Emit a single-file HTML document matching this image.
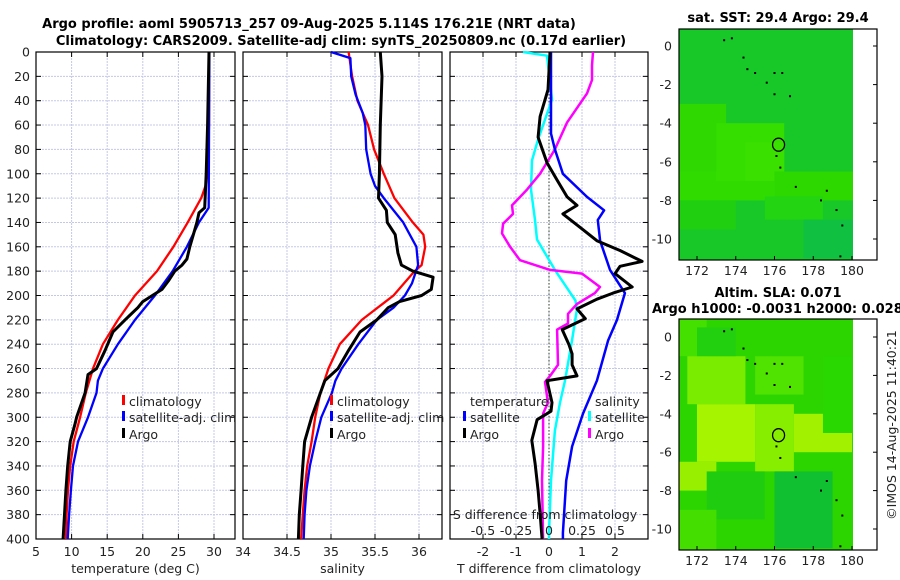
<!DOCTYPE html>
<html><head><meta charset="utf-8">
<style>
html,body{margin:0;padding:0;background:#fff;}
svg{display:block;font-family:"DejaVu Sans","Liberation Sans",sans-serif;}
.tk{font-size:12.5px;fill:#222;}
.tt{font-size:13px;font-weight:bold;fill:#000;}
</style></head>
<body>
<svg id="fig" width="900" height="580" viewBox="0 0 900 580" xmlns="http://www.w3.org/2000/svg">
<rect width="900" height="580" fill="#fff"/>
<text class="tt" x="309" y="28" text-anchor="middle">Argo profile: aoml 5905713_257 09-Aug-2025 5.114S 176.21E (NRT data)</text>
<text class="tt" x="341" y="45" text-anchor="middle">Climatology: CARS2009. Satellite-adj clim: synTS_20250809.nc (0.17d earlier)</text>
<g id="g1"></g><g id="g2"></g><g id="g3"></g><g id="m1"></g><g id="m2"></g>
<text class="tk" transform="translate(896,425) rotate(-90)" text-anchor="middle">©IMOS 14-Aug-2025 11:40:21</text>
</svg>
<script>
// ---- data ----
const depthTicks=[0,20,40,60,80,100,120,140,160,180,200,220,240,260,280,300,320,340,360,380,400];
const tempTicks=[5,10,15,20,25,30];
const salTicks=[34,34.5,35,35.5,36];
const tdiffTicks=[-2,-1,0,1,2];
const sdiffTicks=[-0.5,-0.25,0,0.25,0.5];
const tClimD=[0,60,100,110,120,140,160,180,200,220,240,260,280,300,320,340,360,380,400];
const tClimV=[29.3,29.3,29.1,28.8,28.2,26.3,24.3,22,18.9,16.5,14.4,13,12.0,11.2,10.3,9.8,9.5,9.3,9.2];
const tSatD=[0,128,140,160,180,200,220,240,260,270,280,300,320,340,360,380,400];
const tSatV=[29.35,29.25,27.9,26.2,24.2,21.7,18.9,16.5,14.4,13.7,13.5,12.3,10.9,10.2,9.9,9.65,9.45];
const tArgoD=[0,60,100,128,132,140,160,170,175,180,188,195,205,210,220,230,245,260,265,280,300,305,320,340,360,380,400];
const tArgoV=[29.3,29.1,28.9,28.7,27.9,27.6,26.6,26.2,25.5,24.5,23.6,22.7,20,19.3,17.5,15.8,14.7,13.5,12.3,11.9,10.7,10.5,9.8,9.45,9.2,9.0,8.8];
const sClimD=[0,20,40,60,80,100,120,140,150,160,175,180,200,220,240,260,280,300,320,340,360,380,400];
const sClimV=[35.2,35.24,35.3,35.42,35.49,35.6,35.72,35.93,36.05,36.07,36.03,35.95,35.71,35.35,35.1,34.97,34.88,34.82,34.78,34.73,34.7,34.68,34.66];
const sSatD=[0,5,20,35,50,60,80,100,110,120,140,160,175,190,200,210,220,240,260,270,280,300,320,340,360,380,400];
const sSatV=[35.0,35.22,35.23,35.28,35.36,35.39,35.4,35.45,35.5,35.6,35.82,35.97,35.99,35.92,35.84,35.71,35.52,35.31,35.12,35.05,35.01,34.89,34.82,34.76,34.72,34.7,34.69];
const sArgoD=[0,20,60,100,120,130,140,150,165,175,180,185,195,200,205,210,220,230,245,260,270,280,300,320,340,360,380,400];
const sArgoV=[35.56,35.58,35.56,35.55,35.54,35.63,35.64,35.73,35.76,35.8,35.93,36.16,36.14,36.03,35.78,35.65,35.52,35.33,35.2,35.08,34.93,34.88,34.78,34.7,34.68,34.66,34.64,34.63];
const dTSatD=[0,67,80,100,119,130,138,155,179,198,220,237,270,297,324,352,395,400];
const dTSatV=[0.06,0.06,0.18,0.42,1.15,1.67,1.48,1.55,1.85,2.3,2.06,1.79,1.45,1.03,0.7,0.52,0.42,0.42];
const dTArgoD=[0,31,53,70,91,105,119,126,133,144,155,163,172,176,182,193,198,203,211,219,228,240,248,257,266,270,288,295,302,319,338,360,379,400];
const dTArgoV=[0.03,-0.03,-0.27,-0.33,-0.06,0.24,0.55,0.85,0.42,0.94,1.45,2.15,2.82,2.15,2.0,2.52,1.94,1.45,0.85,1.1,0.4,0.6,0.7,0.7,0.85,-0.06,0.09,0.06,-0.36,-0.52,-0.42,-0.33,-0.27,-0.21];
const dSSatD=[0,3,39,72,89,113,138,154,179,204,211,237,270,288,311,352,395,400];
const dSSatV=[-0.197,-0.015,0.023,-0.083,-0.129,-0.136,-0.106,-0.091,0.045,0.2,0.212,0.174,0.121,0.083,0.045,0.015,0.0,0.0];
const dSArgoD=[0,11,23,34,58,80,100,113,126,133,141,149,160,171,179,182,193,198,207,215,223,228,257,266,271,288,297,324,352,400];
const dSArgoV=[0.333,0.326,0.326,0.288,0.136,0.045,-0.068,-0.167,-0.28,-0.273,-0.348,-0.356,-0.295,-0.22,0.008,0.25,0.386,0.348,0.212,0.144,0.144,0.061,0.068,0.008,-0.03,-0.008,-0.045,-0.045,-0.053,-0.045];
const lonTicks=[172,174,176,178,180];
const latTicks=[0,-2,-4,-6,-8,-10];
const argoLon=176.21, argoLat=-5.114;
const islandsLon=[173.4,173.8,174.4,174.6,175.0,175.6,176.0,176.4,176.0,176.8,176.1,176.3,177.1,178.4,178.7,179.2,179.5,179.4];
const islandsLat=[0.3,0.4,-0.6,-1.2,-1.4,-1.9,-1.4,-1.4,-2.5,-2.6,-5.7,-6.3,-7.3,-8.0,-7.5,-8.5,-9.3,-10.9];
const sstPatchLon=[171,171,173,174.5,176,171,175.5,177.5];
const sstPatchLat=[-3,-6.5,-4,-5,-6.5,-8,-7.8,-9];
const sstPatchW=[2.5,5,3.5,2,5,3,3,3];
const sstPatchH=[3.5,1.5,3,2,1.5,1.5,1.2,2];
const sstPatchC=["#2ed800","#30dc00","#36de00","#3ae000","#2cd800","#20d010","#22d412","#10c040"];
const slaPatchLon=[171,171.5,172,175,177,171,172.5,176,171,178.5,172,175];
const slaPatchLat=[1,-1,-3.5,-3.5,-4,-6.5,-7,-7,-9,-1,0.5,-1];
const slaPatchW=[1.5,3,3,2,3,2,3,3,2,1.5,2,2.5];
const slaPatchH=[2,2.5,3,3.5,2,1.5,2.5,4,2.5,4,1.5,2];
const slaPatchC=["#44e000","#7aec00","#a6f400","#88ee00","#a2f200","#98f000","#20cc10","#10c030","#44de00","#28d800","#22d010","#50e200"];

const NS="http://www.w3.org/2000/svg";
function mk(p,tag,at){const e=document.createElementNS(NS,tag);for(const k in at)e.setAttribute(k,at[k]);p.appendChild(e);return e;}
const Y0=52,Y1=539;
function yD(d){return Y0+(d/400)*(Y1-Y0);}
function lin(d0,d1,r0,r1){return v=>r0+(v-d0)/(d1-d0)*(r1-r0);}

function axesPanel(g,x0,x1,xs,ticks,labelFn,xlabel,showY,name){
  const bg=mk(g,'g',{});
  
  
  depthTicks.forEach(d=>{mk(bg,'line',{x1:x0,x2:x1,y1:yD(d),y2:yD(d),stroke:'#c4c8e8','stroke-width':1,'stroke-dasharray':'2,1'});
    mk(bg,'line',{x1:x0,x2:x0+5,y1:yD(d),y2:yD(d),stroke:'#000'});mk(bg,'line',{x1:x1-5,x2:x1,y1:yD(d),y2:yD(d),stroke:'#000'});
    if(showY){const t=mk(g,'text',{x:x0-6,y:yD(d)+4.5,'text-anchor':'end',class:'tk'});t.textContent=d;
      
      }});
  ticks.forEach(v=>{const x=xs(v);
    if(x>x0+1&&x<x1-1)mk(bg,'line',{x1:x,x2:x,y1:Y0,y2:Y1,stroke:'#c4c8e8','stroke-width':1,'stroke-dasharray':'2,1'});
    mk(bg,'line',{x1:x,x2:x,y1:Y1-5,y2:Y1,stroke:'#000'});mk(bg,'line',{x1:x,x2:x,y1:Y0,y2:Y0+5,stroke:'#000'});
    const t=mk(g,'text',{x:x,y:Y1+17,'text-anchor':'middle',class:'tk'});t.textContent=labelFn(v);
    
    });
  const f=mk(g,'rect',{x:x0,y:Y0,width:x1-x0,height:Y1-Y0,fill:'none',stroke:'#000','stroke-width':1.2});
  
  
  const xl=mk(g,'text',{x:(x0+x1)/2,y:Y1+34,'text-anchor':'middle',class:'tk'});xl.textContent=xlabel;
  
  
}
function line(g,D,V,xs,color,w,name){
  const pts=D.map((d,i)=>xs(V[i]).toFixed(1)+','+yD(d).toFixed(1)).join(' ');
  const p=mk(g,'polyline',{points:pts,fill:'none',stroke:color,'stroke-width':w,'stroke-linejoin':'round'});
  
  
}
function legend(g,x,y,label,color,name){
  if(color){const m=mk(g,'rect',{x:x,y:y-11,width:3,height:10,fill:color});
    
    }
  const t=mk(g,'text',{x:x+7,y:y,class:'tk'});t.textContent=label;
  
  
}

// Panel 1: temperature
const g1=document.getElementById('g1');
const xT=lin(5,30,36,214);
axesPanel(g1,36,235,xT,tempTicks,v=>v,'temperature (deg C)',true,'temperature-panel');
line(g1,tClimD,tClimV,xT,'#ff0000',2.3,'temperature-climatology-line');
line(g1,tSatD,tSatV,xT,'#0000ff',2.3,'temperature-satellite-line');
line(g1,tArgoD,tArgoV,xT,'#000',3,'temperature-argo-line');
legend(g1,122,406,'climatology','#ff0000','legend-climatology');
legend(g1,122,422,'satellite-adj. clim','#0000ff','legend-satellite-adj');
legend(g1,122,439,'Argo','#000','legend-argo');

// Panel 2: salinity
const g2=document.getElementById('g2');
const xS=lin(34,36,243,419);
axesPanel(g2,243,442,xS,salTicks,v=>v,'salinity',false,'salinity-panel');
line(g2,sClimD,sClimV,xS,'#ff0000',2.3,'salinity-climatology-line');
line(g2,sSatD,sSatV,xS,'#0000ff',2.3,'salinity-satellite-line');
line(g2,sArgoD,sArgoV,xS,'#000',3,'salinity-argo-line');
legend(g2,330,406,'climatology','#ff0000','legend-climatology');
legend(g2,330,422,'satellite-adj. clim','#0000ff','legend-satellite-adj');
legend(g2,330,439,'Argo','#000','legend-argo');

// Panel 3: differences
const g3=document.getElementById('g3');
const xDT=lin(-3,3,450,648);
const xDS=lin(-0.75,0.75,450,648);
axesPanel(g3,450,648,xDT,tdiffTicks,v=>v,'T difference from climatology',false,'difference-panel');
const zl=mk(g3,'line',{x1:xDT(0),x2:xDT(0),y1:Y0,y2:Y1,stroke:'#334422','stroke-width':1,'stroke-dasharray':'1.5,2'});


line(g3,dSSatD,dSSatV,xDS,'#00ffff',2.5,'salinity-satellite-diff-line');
line(g3,dSArgoD,dSArgoV,xDS,'#ff00ff',2.5,'salinity-argo-diff-line');
line(g3,dTSatD,dTSatV,xDT,'#0000ff',2.5,'temperature-satellite-diff-line');
line(g3,dTArgoD,dTArgoV,xDT,'#000',3,'temperature-argo-diff-line');
legend(g3,463,406,'temperature',null,'legend-temperature-header');
legend(g3,463,422,'satellite','#0000ff','legend-temp-satellite');
legend(g3,463,439,'Argo','#000','legend-temp-argo');
legend(g3,588,406,'salinity',null,'legend-salinity-header');
legend(g3,588,422,'satellite','#00ffff','legend-sal-satellite');
legend(g3,588,439,'Argo','#ff00ff','legend-sal-argo');
const st=mk(g3,'text',{x:545,y:519,'text-anchor':'middle',class:'tk'});st.textContent='S difference from climatology';


sdiffTicks.forEach(v=>{const t=mk(g3,'text',{x:xDS(v),y:535,'text-anchor':'middle',class:'tk'});t.textContent=v;
  
  });

// Maps
function map(gid,top,bottom,lat0y,lat10y,base,pl,pa,pw,ph,pc,title,title2,name){
  const g=document.getElementById(gid);
  const xL=lin(172,180,697,852), yL=lin(0,-10,lat0y,lat10y);
  const fx0=679,fx1=877;
  const bgr=mk(g,'rect',{x:fx0,y:top,width:853-fx0,height:bottom-top,fill:base});
  
  
  pl.forEach((lo,i)=>{
    const x=Math.max(fx0,xL(lo)), x2=Math.min(853,xL(lo+pw[i]));
    const y=Math.max(top,yL(pa[i])), y2=Math.min(bottom,yL(pa[i]-ph[i]));
    const r=mk(g,'rect',{x:x,y:y,width:Math.max(0,x2-x),height:Math.max(0,y2-y),fill:pc[i]});
    
    
  });
  islandsLon.forEach((lo,i)=>{const r=mk(g,'rect',{x:xL(lo)-1,y:yL(islandsLat[i])-1,width:2,height:2,fill:'#000'});
    
    });
  const c=mk(g,'ellipse',{cx:xL(argoLon),cy:yL(argoLat),rx:6,ry:6.5,fill:'none',stroke:'#000','stroke-width':1.3});
  
  
  const f=mk(g,'rect',{x:fx0,y:top,width:fx1-fx0,height:bottom-top,fill:'none',stroke:'#000','stroke-width':1.2});
  
  
  lonTicks.forEach(v=>{mk(g,'line',{x1:xL(v),x2:xL(v),y1:bottom,y2:bottom-4,stroke:'#000'});
    const t=mk(g,'text',{x:xL(v),y:bottom+15,'text-anchor':'middle',class:'tk'});t.textContent=v;
    
    });
  latTicks.forEach(v=>{mk(g,'line',{x1:fx1,x2:fx1-4,y1:yL(v),y2:yL(v),stroke:'#000'});
    const t=mk(g,'text',{x:fx0-7,y:yL(v)+4.5,'text-anchor':'end',class:'tk'});t.textContent=v;
    
    });
  const tt=mk(g,'text',{x:778,y:title2?top-22:top-7,'text-anchor':'middle',class:'tt'});tt.textContent=title;
  
  
  if(title2){const t2=mk(g,'text',{x:652,y:top-6,class:'tt'});t2.textContent=title2;
    
    }
}
map('m1',29,260,46,239,'#18c828',sstPatchLon,sstPatchLat,sstPatchW,sstPatchH,sstPatchC,'sat. SST: 29.4 Argo: 29.4',null,'sst-map');
map('m2',319,550,337,529,'#2cd400',slaPatchLon,slaPatchLat,slaPatchW,slaPatchH,slaPatchC,'Altim. SLA: 0.071','Argo h1000: -0.0031 h2000: 0.028','sla-map');
</script>
</body></html>
